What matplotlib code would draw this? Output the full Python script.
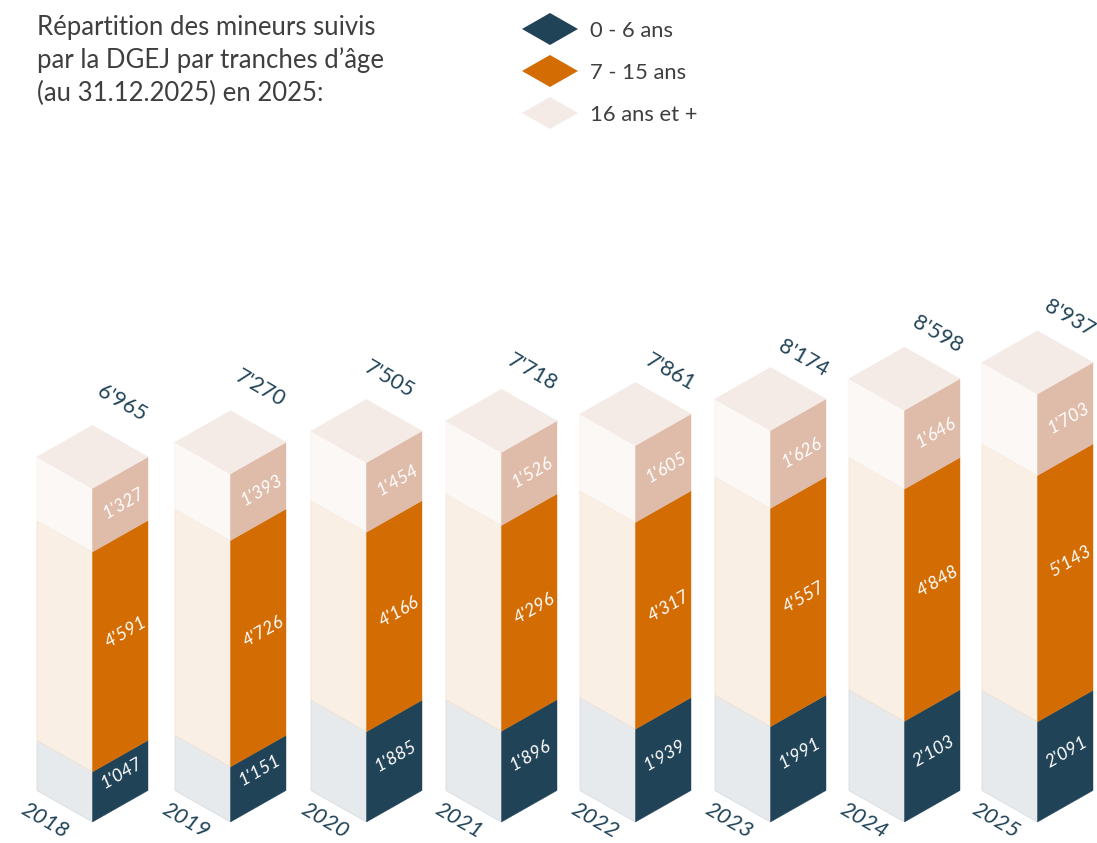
import matplotlib
matplotlib.use('Agg')
import matplotlib.pyplot as plt
from matplotlib.patches import Polygon

plt.rcParams['font.family'] = ['Lato', 'DejaVu Sans']

# donnees
annees = ['2018', '2019', '2020', '2021', '2022', '2023', '2024', '2025']
moins_7 = [1047, 1151, 1885, 1896, 1939, 1991, 2103, 2091]
de_7_15 = [4591, 4726, 4166, 4296, 4317, 4557, 4848, 5143]
plus_16 = [1327, 1393, 1454, 1526, 1605, 1626, 1646, 1703]
totaux = [6965, 7270, 7505, 7718, 7861, 8174, 8598, 8937]
legende = ['0 - 6 ans', '7 - 15 ans', '16 ans et +']
titre = ['Répartition des mineurs suivis', 'par la DGEJ par tranches d’âge', '(au 31.12.2025) en 2025:']

# mise en page (pixels)
W, H = 1097, 843
BASE = 822
ECHELLE = 0.0479  # pixels par mineur
DEMI = 55.5
PROF = 31.5
gauches = [37, 175, 311, 446, 580, 715, 849, 982]
pos_totaux = [(122, 403), (260, 388), (389, 379), (532, 372), (670, 372), (803, 358), (937, 334), (1069, 318)]
pos_annees = [45, 186, 325, 459, 595, 729, 864, 996]
decal_bas = [-8, -8, -5, -5, -5, -5, -5, -4]
decal_milieu = [-14, -6, -4, -4, -4, -4, -8, -22]
decal_haut = [-1, -1, -1, -1, -1, -1, -1, -1]
decal_x = [1, 5, 3]

BLEU = '#214357'
couleurs_droite = ['#214357', '#d26c03', '#dfbcaa']
couleurs_gauche = ['#e6eaed', '#f9efe5', '#fcf8f5']
bords_gauche = ['#d8dde1', '#f5e3d3', '#f9f1eb']
COULEUR_HAUT = '#f4ebe7'


def v(py):
    # pixel vertical -> nombre de mineurs
    return (BASE - py) / ECHELLE


def fx(px):
    return px / W


def fy(py):
    return 1 - py / H


fig = plt.figure(figsize=(W / 100, H / 100), dpi=100)
ax = fig.add_axes([0, 0, 1, 1])
ax.set_xlim(0, W)
ax.set_ylim(v(H), v(0))
ax.axis('off')

prof = PROF / ECHELLE

for i, annee in enumerate(annees):
    xg = gauches[i]
    xc = xg + DEMI
    xd = xg + 2 * DEMI
    bas = 0
    segments = [moins_7[i], de_7_15[i], plus_16[i]]
    decalages = [decal_bas[i], decal_milieu[i], decal_haut[i]]
    for j, val in enumerate(segments):
        haut = bas + val
        ax.add_patch(Polygon([(xg, bas + prof), (xc, bas), (xc, haut), (xg, haut + prof)],
                             facecolor=couleurs_gauche[j], edgecolor=bords_gauche[j], linewidth=0.6))
        ax.add_patch(Polygon([(xc, bas), (xd, bas + prof), (xd, haut + prof), (xc, haut)],
                             facecolor=couleurs_droite[j], edgecolor=couleurs_droite[j], linewidth=0.3))
        # etiquette sur la face droite
        ym = (bas + haut) / 2 + prof / 2 - decalages[j] / ECHELLE
        ax.text((xc + xd) / 2 + decal_x[j], ym, f"{val // 1000}'{val % 1000:03d}", color='white', fontsize=13,
                style='italic', rotation=30, rotation_mode='anchor', ha='center', va='center')
        bas = haut
    # dessus
    ax.add_patch(Polygon([(xg, bas + prof), (xc, bas), (xd, bas + prof), (xc, bas + 2 * prof)],
                         facecolor=COULEUR_HAUT, edgecolor=COULEUR_HAUT, linewidth=0.4))
    # total et annee
    t = totaux[i]
    ax.text(pos_totaux[i][0], v(pos_totaux[i][1]), f"{t // 1000}'{t % 1000:03d}", color=BLEU, fontsize=15.5,
            rotation=-30, rotation_mode='anchor', ha='center', va='center')
    ax.text(pos_annees[i], v(821), annee, color=BLEU, fontsize=16, style='italic',
            rotation=-30, rotation_mode='anchor', ha='center', va='center')

# titre
for ligne, py in zip(titre, [27, 60, 93]):
    fig.text(fx(37), fy(py), ligne, color='#3f3f3f', fontsize=18.5, ha='left', va='center')

# legende
for lab, coul, py in zip(legende, [couleurs_droite[0], couleurs_droite[1], COULEUR_HAUT], [29, 71, 113]):
    ax.add_patch(Polygon([(522, v(py)), (550, v(py - 16)), (578, v(py)), (550, v(py + 16))],
                         facecolor=coul, edgecolor='none'))
    fig.text(fx(590), fy(py + 2), lab, color='#3f3f3f', fontsize=15.8, ha='left', va='center')

fig.savefig('out.png', dpi=100)
